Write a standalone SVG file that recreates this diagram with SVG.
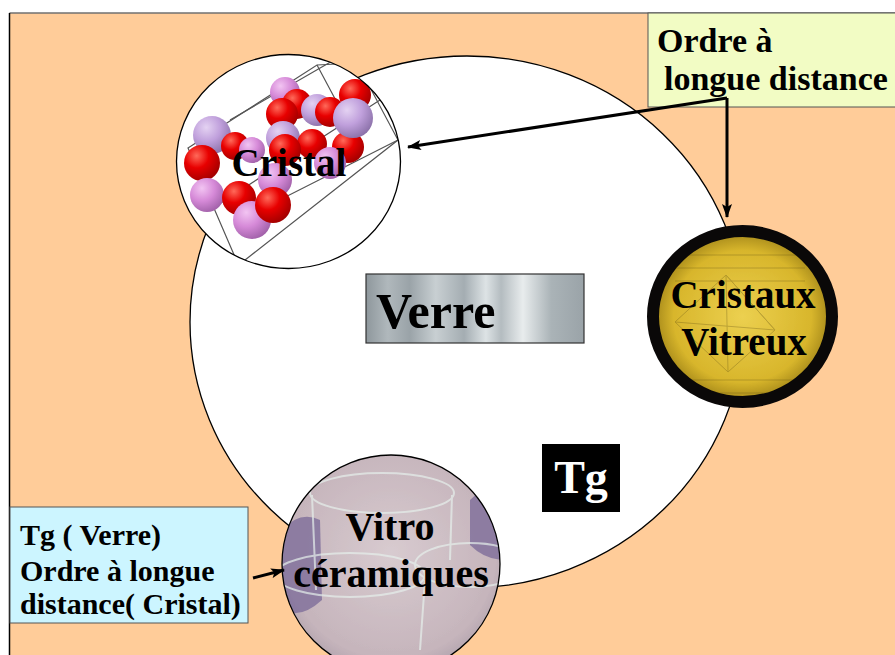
<svg xmlns="http://www.w3.org/2000/svg" width="895" height="655" viewBox="0 0 895 655">
<defs>
<style>
.t{font-family:"Liberation Serif","Times New Roman",serif;font-weight:bold;fill:#000}
.conn{stroke:#000;stroke-width:3;fill:none}
.wire{stroke:#555;stroke-width:1.2;fill:none}
</style>
<marker id="ah" markerWidth="14" markerHeight="10" refX="13" refY="5" orient="auto" markerUnits="userSpaceOnUse">
<path d="M0,0 L14,5 L0,10 L3,5 Z" fill="#000"/>
</marker>
<radialGradient id="red" cx="0.35" cy="0.3" r="0.75">
<stop offset="0" stop-color="#ff6a5a"/><stop offset="0.45" stop-color="#e80000"/><stop offset="1" stop-color="#a00000"/>
</radialGradient>
<radialGradient id="pink" cx="0.35" cy="0.3" r="0.75">
<stop offset="0" stop-color="#f2c4f2"/><stop offset="0.5" stop-color="#d68ad8"/><stop offset="1" stop-color="#a060a8"/>
</radialGradient>
<radialGradient id="lav" cx="0.35" cy="0.3" r="0.75">
<stop offset="0" stop-color="#e4d2f2"/><stop offset="0.5" stop-color="#c0a0dc"/><stop offset="1" stop-color="#8a70a8"/>
</radialGradient>
<radialGradient id="gold" cx="0.5" cy="0.5" r="0.55">
<stop offset="0" stop-color="#ecd050"/><stop offset="0.7" stop-color="#d8b62c"/><stop offset="1" stop-color="#8a7010"/>
</radialGradient>
<radialGradient id="vit" cx="0.5" cy="0.45" r="0.6">
<stop offset="0" stop-color="#d8cbd0"/><stop offset="0.8" stop-color="#c6b5bc"/><stop offset="1" stop-color="#aa9ca8"/>
</radialGradient>
<linearGradient id="metal" x1="0" y1="0" x2="1" y2="0">
<stop offset="0" stop-color="#8e979c"/><stop offset="0.1" stop-color="#b0b8bc"/><stop offset="0.2" stop-color="#9aa3a8"/>
<stop offset="0.32" stop-color="#c8cfd2"/><stop offset="0.45" stop-color="#a4adb2"/><stop offset="0.55" stop-color="#dde3e5"/>
<stop offset="0.62" stop-color="#b4bcc0"/><stop offset="0.72" stop-color="#e8eced"/><stop offset="0.85" stop-color="#aab3b7"/>
<stop offset="1" stop-color="#9aa3a8"/>
</linearGradient>
<clipPath id="cc"><ellipse cx="288.5" cy="161.5" rx="112" ry="107"/></clipPath>
<clipPath id="vc"><circle cx="391" cy="564" r="109"/></clipPath>
<clipPath id="gc"><ellipse cx="742.5" cy="316.5" rx="84" ry="80"/></clipPath>
</defs>

<g id="background">
<rect x="9.5" y="13" width="886" height="643" fill="#ffcc99"/>
<line x1="9.5" y1="13" x2="895" y2="13" stroke="#707070" stroke-width="1.5"/>
<line x1="9.5" y1="13" x2="9.5" y2="655" stroke="#000" stroke-width="1.5"/>
</g>

<g id="verre-domain">
<ellipse cx="467" cy="322" rx="277" ry="266" fill="#fff" stroke="#000" stroke-width="1.3"/>
</g>

<g id="verre">
<rect x="366" y="274" width="218" height="69" fill="url(#metal)" stroke="#333" stroke-width="1.2"/>
<text class="t" x="376" y="328" font-size="50">Verre</text>
</g>

<g id="tg">
<rect x="542" y="444" width="78" height="68" fill="#000"/>
<text class="t" x="581" y="493" font-size="46" text-anchor="middle" style="fill:#fff">Tg</text>
</g>

<g id="cristal">
<ellipse cx="288.5" cy="161.5" rx="112" ry="107" fill="#fff"/>
<g clip-path="url(#cc)">
<path class="wire" d="M188,148 L317,65 L357,63 L398,140 L245,260 L235,257 L188,148 Z"/>
<path class="wire" d="M210,210 L380,100 M317,65 L357,140 M230,120 L360,45 M240,220 L398,140"/>
<circle cx="285" cy="92" r="15" fill="url(#pink)"/>
<circle cx="297" cy="104" r="15" fill="url(#red)"/>
<circle cx="317" cy="110" r="16" fill="url(#lav)"/>
<circle cx="355" cy="95" r="16" fill="url(#red)"/>
<circle cx="282" cy="114" r="16" fill="url(#red)"/>
<circle cx="330" cy="112" r="15" fill="url(#red)"/>
<circle cx="212" cy="135" r="19" fill="url(#lav)"/>
<circle cx="235" cy="146" r="14" fill="url(#red)"/>
<circle cx="252" cy="150" r="13" fill="url(#pink)"/>
<circle cx="348" cy="147" r="16" fill="url(#red)"/>
<circle cx="353" cy="118" r="20" fill="url(#lav)"/>
<circle cx="283" cy="138" r="17" fill="url(#lav)"/>
<circle cx="312" cy="144" r="15" fill="url(#red)"/>
<circle cx="330" cy="163" r="16" fill="url(#pink)"/>
<circle cx="202" cy="163" r="18" fill="url(#red)"/>
<circle cx="285" cy="150" r="16" fill="url(#red)"/>
<circle cx="207" cy="195" r="17" fill="url(#pink)"/>
<circle cx="239" cy="198" r="17" fill="url(#red)"/>
<circle cx="252" cy="220" r="19" fill="url(#pink)"/>
<circle cx="275" cy="180" r="17" fill="url(#pink)"/>
<circle cx="273" cy="205" r="18" fill="url(#red)"/>
</g>
<ellipse cx="288.5" cy="161.5" rx="112" ry="107" fill="none" stroke="#000" stroke-width="1.3"/>
<text class="t" x="289" y="176" font-size="39" text-anchor="middle">Cristal</text>
</g>

<g id="cristaux-vitreux">
<ellipse cx="742.5" cy="316.5" rx="89.5" ry="85.5" fill="url(#gold)" stroke="#0a0808" stroke-width="12"/>
<g clip-path="url(#gc)" opacity="0.3" stroke="#5a4a10" stroke-width="1" fill="none">
<path d="M675,255 L800,255 M675,268 L805,268 M675,281 L805,281 M675,380 L805,380 M675,393 L805,393"/>
<path d="M726,275 L675,322 L728,372 L775,330 Z M726,275 L728,372 M726,275 L775,330 M675,322 L775,330"/>
</g>
<text class="t" x="743" y="308" font-size="39" text-anchor="middle">Cristaux</text>
<text class="t" x="744" y="355" font-size="39" text-anchor="middle">Vitreux</text>
</g>

<g id="vitroceramiques">
<circle cx="391" cy="564" r="109" fill="url(#vit)"/>
<g clip-path="url(#vc)">
<path d="M282,530 Q300,510 320,520 L322,600 Q300,620 282,610 Z" fill="#7a6a98" opacity="0.75"/>
<path d="M470,500 Q490,480 505,500 L505,560 Q485,560 470,545 Z" fill="#7a6a98" opacity="0.75"/>
<g fill="none" stroke="#e6f0ec" stroke-width="2" opacity="0.7">
<ellipse cx="382" cy="493" rx="72" ry="20"/>
<path d="M312,495 L316,590 M452,495 L450,560"/>
<ellipse cx="350" cy="575" rx="75" ry="22"/>
<ellipse cx="470" cy="565" rx="55" ry="22"/>
<path d="M275,580 L285,650 M425,580 L420,650"/>
</g>
</g>
<circle cx="391" cy="564" r="109" fill="none" stroke="#000" stroke-width="1.3"/>
<text class="t" x="390" y="540" font-size="40" text-anchor="middle">Vitro</text>
<text class="t" x="391" y="587" font-size="40" text-anchor="middle">céramiques</text>
</g>

<g id="ordre-longue-distance">
<rect x="648" y="13" width="250" height="94" fill="#f2fcc4" stroke="#555" stroke-width="1"/>
<text class="t" x="657" y="52" font-size="34">Ordre à</text>
<text class="t" x="664" y="90" font-size="34"> longue distance</text>
</g>

<g id="tg-verre-cristal">
<rect x="10" y="507" width="238" height="116" fill="#ccf5ff" stroke="#555" stroke-width="1"/>
<text class="t" x="20" y="545" font-size="30">Tg ( Verre)</text>
<text class="t" x="20" y="581" font-size="30">Ordre à longue</text>
<text class="t" x="20" y="614" font-size="30">distance( Cristal)</text>
</g>

<g id="connectors">
<line class="conn" x1="727" y1="98" x2="408" y2="147" marker-end="url(#ah)"/>
<line class="conn" x1="727" y1="98" x2="727" y2="217" marker-end="url(#ah)"/>
<line class="conn" x1="253" y1="578" x2="284" y2="570" stroke-width="4" marker-end="url(#ah)"/>
</g>
</svg>
